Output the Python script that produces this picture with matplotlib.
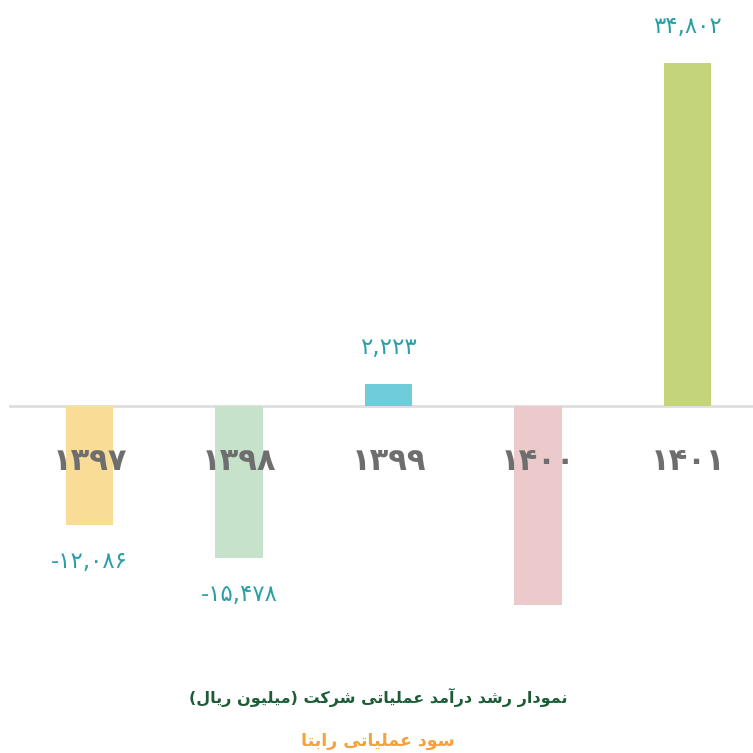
import matplotlib
matplotlib.use("Agg")
import matplotlib.pyplot as plt

plt.rcParams["font.family"] = ["DejaVu Sans"]

# داده‌ها
years = ["۱۳۹۷", "۱۳۹۸", "۱۳۹۹", "۱۴۰۰", "۱۴۰۱"]
values = [-12086, -15478, 2223, -20200, 34802]
value_labels = ["-۱۲,۰۸۶", "-۱۵,۴۷۸", "۲,۲۲۳", "", "۳۴,۸۰۲"]
bar_colors = ["#f9dd97", "#c6e2ca", "#6fcdd9", "#ecc9cb", "#c3d47a"]
title = "نمودار رشد درآمد عملیاتی شرکت (میلیون ریال)"
subtitle = "سود عملیاتی رابتا"

# فرم‌های نمایشی حروف: (تنها، پایانی، آغازی، میانی)
FORMS = {
    "ا": ("\uFE8D", "\uFE8E", None, None),
    "آ": ("\uFE81", "\uFE82", None, None),
    "ب": ("\uFE8F", "\uFE90", "\uFE91", "\uFE92"),
    "ت": ("\uFE95", "\uFE96", "\uFE97", "\uFE98"),
    "د": ("\uFEA9", "\uFEAA", None, None),
    "ر": ("\uFEAD", "\uFEAE", None, None),
    "س": ("\uFEB1", "\uFEB2", "\uFEB3", "\uFEB4"),
    "ش": ("\uFEB5", "\uFEB6", "\uFEB7", "\uFEB8"),
    "ع": ("\uFEC9", "\uFECA", "\uFECB", "\uFECC"),
    "ل": ("\uFEDD", "\uFEDE", "\uFEDF", "\uFEE0"),
    "م": ("\uFEE1", "\uFEE2", "\uFEE3", "\uFEE4"),
    "ن": ("\uFEE5", "\uFEE6", "\uFEE7", "\uFEE8"),
    "و": ("\uFEED", "\uFEEE", None, None),
    "ی": ("\uFBFC", "\uFBFD", "\uFBFE", "\uFBFF"),
    "ک": ("\uFB8E", "\uFB8F", "\uFB90", "\uFB91"),
}


def shape_fa(s):
    """اتصال حروف فارسی و چیدن راست به چپ برای matplotlib."""
    out = []
    for i, ch in enumerate(s):
        if ch not in FORMS:
            out.append(ch)
            continue
        prev = s[i - 1] if i > 0 else ""
        nxt = s[i + 1] if i + 1 < len(s) else ""
        join_prev = prev in FORMS and FORMS[prev][2] is not None
        join_next = FORMS[ch][2] is not None and nxt in FORMS
        iso, fin, ini, med = FORMS[ch]
        if join_prev and join_next:
            out.append(med)
        elif join_prev:
            out.append(fin)
        elif join_next:
            out.append(ini)
        else:
            out.append(iso)
    mirror = {"(": ")", ")": "("}
    return "".join(mirror.get(c, c) for c in reversed(out))


fig = plt.figure(figsize=(7.53, 7.53), dpi=100)
ax = fig.add_axes([0, 0, 1, 1])
x = list(range(len(years)))
ax.bar(x, values, width=0.315, color=bar_colors, zorder=2)
ax.axhline(0, xmin=0.013, xmax=1, color="#dedede", lw=2, zorder=1)

ax.set_xlim(-0.599, 4.438)
ax.set_ylim(-35220, 41210)
ax.axis("off")

for xi, yr in zip(x, years):
    ax.text(xi, -5600, yr, ha="center", va="center", fontsize=22,
            fontweight="bold", color="#6e6e6e", zorder=3)

for xi, v, lab in zip(x, values, value_labels):
    if not lab:
        continue
    off = 3700 if v > 0 else -3700
    ax.text(xi, v + off, lab, ha="center", va="center", fontsize=16.5,
            color="#2aa0a6", zorder=3)

fig.text(0.502, 0.074, shape_fa(title), ha="center", va="center",
         fontsize=11.5, fontweight="bold", color="#1d5c36")
fig.text(0.502, 0.016, shape_fa(subtitle), ha="center", va="center",
         fontsize=12.5, fontweight="bold", color="#f6a13a")

fig.savefig("out.png", dpi=100)
